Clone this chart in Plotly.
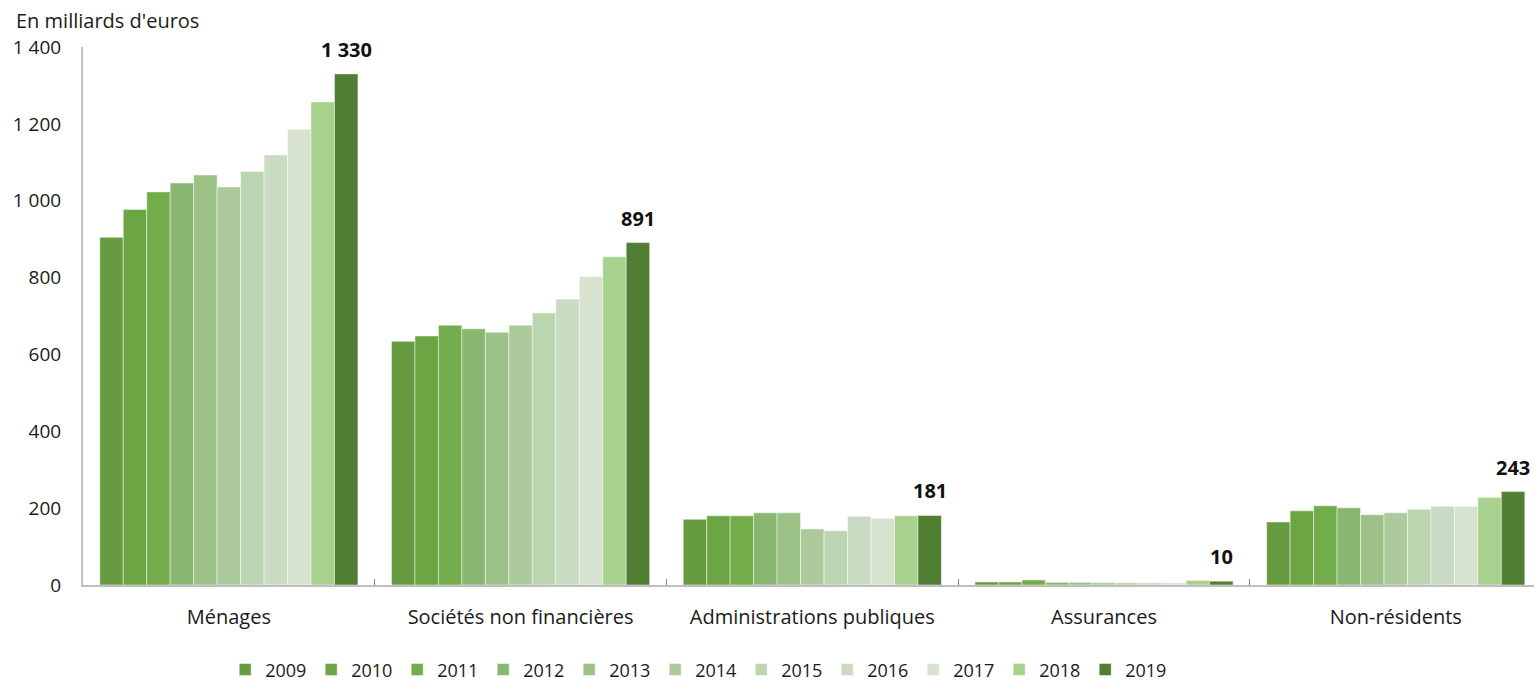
import plotly.graph_objects as go

categories = ["Ménages", "Sociétés non financières", "Administrations publiques", "Assurances", "Non-résidents"]
years = ["2009", "2010", "2011", "2012", "2013", "2014", "2015", "2016", "2017", "2018", "2019"]

v2009 = [905, 634, 171, 8, 164]
v2010 = [977, 648, 180, 8, 193]
v2011 = [1023, 676, 180, 13, 206]
v2012 = [1046, 667, 188, 7, 201]
v2013 = [1067, 658, 188, 7, 183]
v2014 = [1036, 676, 146, 6, 188]
v2015 = [1076, 708, 141, 6, 197]
v2016 = [1119, 744, 179, 6, 205]
v2017 = [1186, 803, 174, 6, 205]
v2018 = [1257, 854, 180, 12, 228]
v2019 = [1330, 891, 181, 10, 243]
labels_2019 = ["1 330", "891", "181", "10", "243"]

series = [v2009, v2010, v2011, v2012, v2013, v2014, v2015, v2016, v2017, v2018, v2019]
colors = ["#669C3F", "#6CA544", "#73AD4B", "#89B770", "#9CC288", "#ACCA9C",
          "#BCD5B1", "#C9DCC3", "#D7E3CF", "#A8D18D", "#507E32"]

font = "Open Sans"
bargap = 0.115

fig = go.Figure()
for year, vals, col in zip(years, series, colors):
    fig.add_trace(go.Bar(
        x=categories, y=vals, name=year,
        marker=dict(color=col, line=dict(color="rgba(255,255,255,0.6)", width=0.8)),
    ))

# value labels above the 2019 bar of each group
n = len(years)
offset_2019 = (n - 1 - (n - 1) / 2) * (1 - bargap) / n
annotations = [dict(text="En milliards d'euros", xref="paper", yref="paper",
                    x=-0.0476, y=1.0, yshift=27, xanchor="left", yanchor="middle",
                    showarrow=False, font=dict(size=20, color="#1a1a1a"))]
for i, (val, lab) in enumerate(zip(v2019, labels_2019)):
    annotations.append(dict(x=i + offset_2019, y=val, xref="x", yref="y", text=lab,
                            showarrow=False, yanchor="bottom", yshift=9,
                            font=dict(size=20, color="#111111", weight="bold")))

fig.update_layout(
    barmode="group",
    bargap=bargap,
    bargroupgap=0,
    width=1534, height=689,
    margin=dict(l=83, r=0, t=47, b=104, autoexpand=False),
    plot_bgcolor="white", paper_bgcolor="white",
    font=dict(family=font, size=20, color="#1a1a1a"),
    separators=", ",
    showlegend=True,
    legend=dict(orientation="h", x=0.098, xanchor="left", y=-0.192, yanchor="bottom",
                font=dict(size=18), entrywidth=41, entrywidthmode="pixels",
                itemwidth=30, traceorder="normal", tracegroupgap=0),
    annotations=annotations,
)
fig.update_xaxes(range=[-0.5, 4.474], showline=True, linecolor="#BFBFBF", linewidth=2,
                 ticks="inside", tickson="boundaries", ticklen=6, tickcolor="#888888",
                 showgrid=False, ticklabelstandoff=13)
fig.update_yaxes(range=[0, 1400], dtick=200, tickformat=",d", showline=True,
                 linecolor="#BFBFBF", linewidth=2, showgrid=False, zeroline=False,
                 ticks="", ticklabelstandoff=16, tickfont=dict(size=19))

fig.write_html("out.html", config={"displayModeBar": False},
               post_script="document.body.style.margin='0';")
